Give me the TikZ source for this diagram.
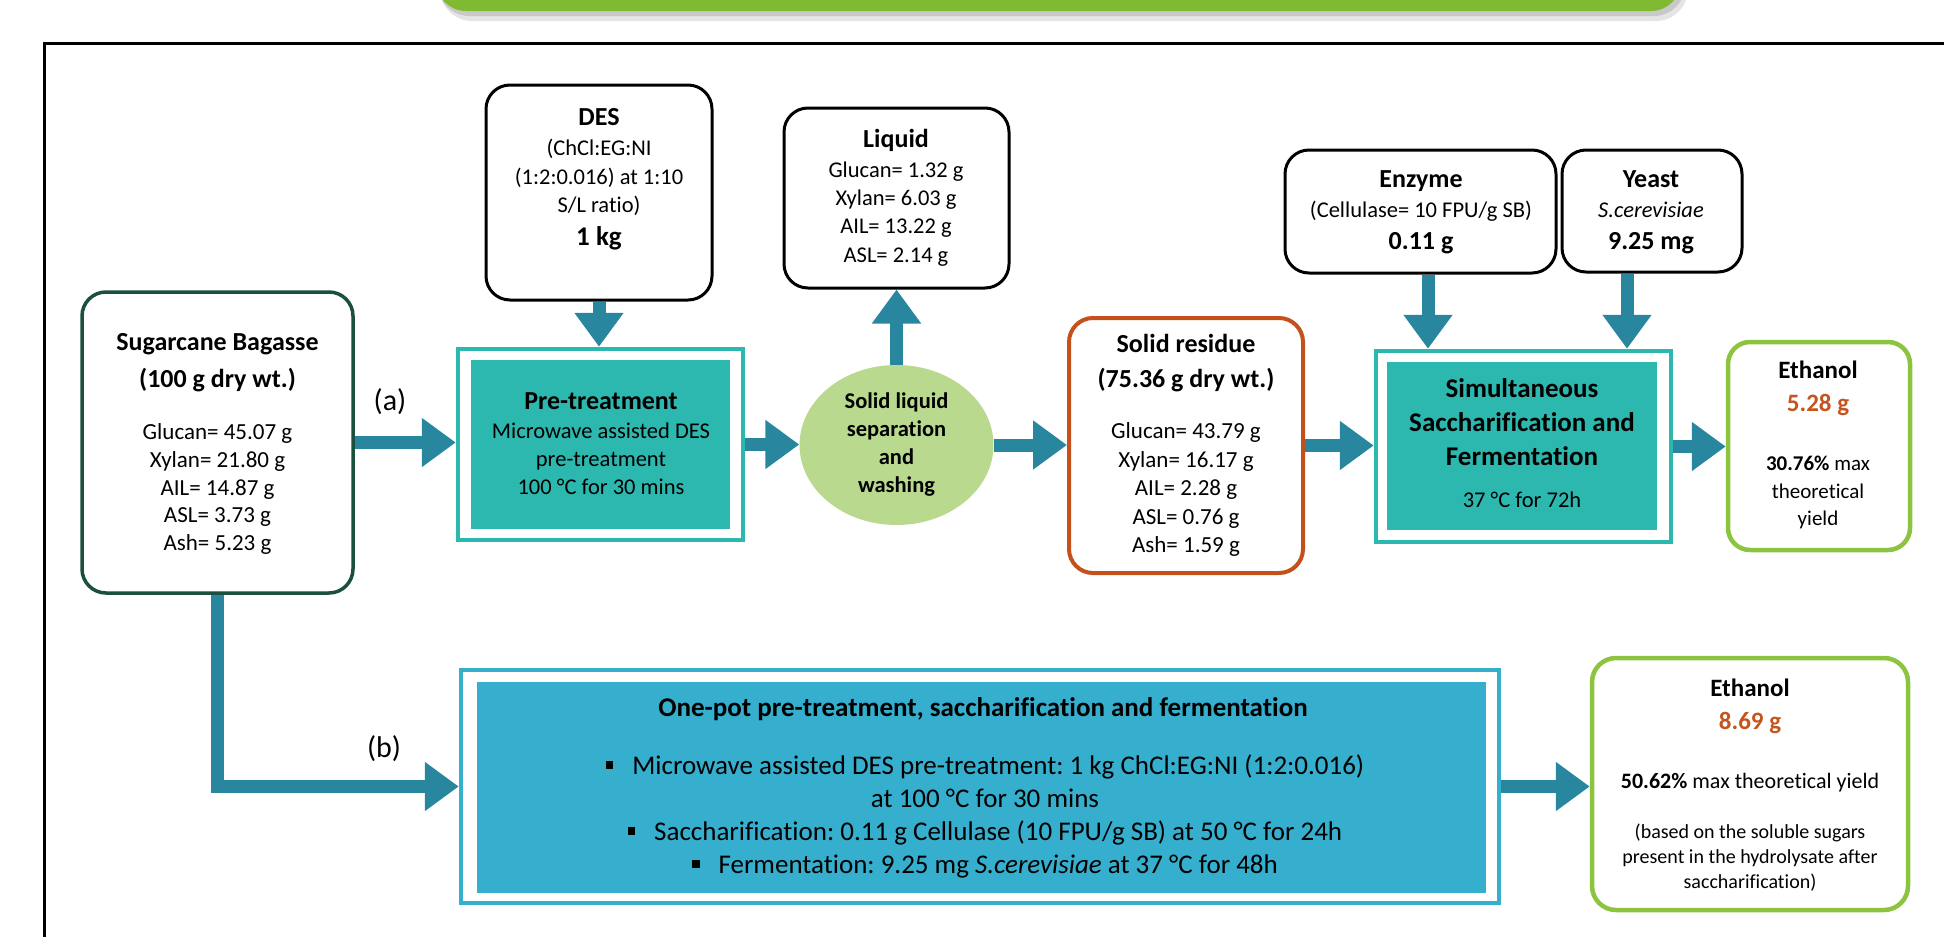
\documentclass[tikz,border=0pt]{standalone}
\usepackage{fontspec}
\setmainfont{Carlito}[Ligatures={NoCommon}]
\usetikzlibrary{arrows.meta,shapes.geometric}
\definecolor{arrowc}{RGB}{40,134,158}
\definecolor{tealc}{RGB}{45,184,175}
\definecolor{bluec}{RGB}{54,174,206}
\definecolor{circc}{RGB}{185,217,143}
\definecolor{bagc}{RGB}{28,80,62}
\definecolor{resc}{RGB}{196,80,28}
\definecolor{ethc}{RGB}{140,196,64}
\definecolor{valc}{RGB}{196,85,30}
\definecolor{topc}{RGB}{127,186,50}
\newcommand\fsz[2]{\fontsize{#1}{#2}\selectfont}
\newcommand\sqb{\raisebox{0.22em}{\rule{0.28em}{0.28em}}\hspace{0.7em}}
\frenchspacing
\begin{document}
\begin{tikzpicture}[x=1pt,y=-1pt,
  whitebox/.style={draw=black, line width=3pt, rounded corners=24pt, fill=white, inner sep=0pt},
  outerbox/.style={line width=4.5pt, fill=white, inner sep=0pt},
  fillbox/.style={inner sep=0pt},
  tx/.style={inner sep=0pt, align=center},
  bigarrow/.style={draw=arrowc, line width=13pt, line join=miter, -{Triangle[length=34pt,width=47pt]}},
  ttl/.style={font={\fsz{26}{35}\bfseries}},
  bdy/.style={font={\fsz{22.5}{28.3}}}
]
\useasboundingbox (0,0) rectangle (1944,937);
% top banner with shadow
\fill[black, opacity=0.10, rounded corners=32pt] (440,-80) rectangle (1688,21);
\fill[black, opacity=0.12, rounded corners=31pt] (438,-80) rectangle (1685,16);
\node[fill=topc, rounded corners=30pt, minimum width=1245pt, minimum height=100pt, inner sep=0pt] (banner) at (1058.5,-39) {};
% frame
\draw[line width=3pt] (44,960) -- (44,43) -- (1960,43);

% Sugarcane bagasse
\node[whitebox, draw=bagc, line width=3.5pt, minimum width=271pt, minimum height=301pt] (bag) at (217.5,442.5) {};
\node[tx, font={\fsz{26}{37}\bfseries}] (bagt) at (217.5,361.5) {\strut Sugarcane Bagasse\\\strut (100 g dry wt.)};
\node[tx, font={\fsz{23}{27.75}}] (bagb) at (217.5,489.5) {\strut Glucan= 45.07 g\\\strut Xylan= 21.80 g\\\strut AIL= 14.87 g\\\strut ASL= 3.73 g\\\strut Ash= 5.23 g};
\node[tx, font={\fsz{30}{36}}] (la) at (390,403) {\strut (a)};

% DES
\node[whitebox, minimum width=226pt, minimum height=215pt] (des) at (599,192.5) {};
\node[tx, ttl] (dest) at (599,118) {\strut DES};
\node[tx, font={\fsz{22.5}{28.5}}] (desb) at (599,178.3) {\strut (ChCl:EG:NI\\\strut (1:2:0.016) at 1:10\\\strut S/L ratio)};
\node[tx, font={\fsz{27}{35}\bfseries}] (deskg) at (599,238) {\strut 1 kg};

% Pre-treatment
\node[outerbox, draw=tealc, minimum width=285pt, minimum height=191pt] (pre) at (600.5,444.5) {};
\node[fillbox, fill=tealc, minimum width=259pt, minimum height=169pt] (prei) at (600.5,444.5) {};
\node[tx, ttl] (pret) at (601,402) {\strut Pre-treatment};
\node[tx, font={\fsz{22.5}{28}}] (preb) at (601,460.7) {\strut Microwave assisted DES\\\strut pre-treatment\\\strut 100 °C for 30 mins};

% Liquid
\node[whitebox, minimum width=225pt, minimum height=180pt] (liq) at (896.5,198) {};
\node[tx, ttl] (liqt) at (896,140) {\strut Liquid};
\node[tx, bdy] (liqb) at (896,214) {\strut Glucan= 1.32 g\\\strut Xylan= 6.03 g\\\strut AIL= 13.22 g\\\strut ASL= 2.14 g};

% separation circle
\node[ellipse, fill=circc, minimum width=194pt, minimum height=160pt, inner sep=0pt] (circ) at (896.5,445) {};
\node[tx, font={\fsz{22.5}{28.3}\bfseries}] (circt) at (896.5,444.8) {\strut Solid liquid\\\strut separation\\\strut and\\\strut washing};

% Solid residue
\node[whitebox, draw=resc, line width=4pt, minimum width=234pt, minimum height=255pt] (res) at (1186,445.5) {};
\node[tx, ttl] (rest) at (1186,362.5) {\strut Solid residue\\\strut (75.36 g dry wt.)};
\node[tx, font={\fsz{23}{28.5}}] (resb) at (1186,490) {\strut Glucan= 43.79 g\\\strut Xylan= 16.17 g\\\strut AIL= 2.28 g\\\strut ASL= 0.76 g\\\strut Ash= 1.59 g};

% Enzyme and Yeast
\node[whitebox, minimum width=271pt, minimum height=123pt] (enz) at (1420.5,211.5) {};
\node[tx, ttl] (enzt) at (1421,180) {\strut Enzyme};
\node[tx, bdy] (enzb) at (1421,212) {\strut (Cellulase= 10 FPU/g SB)};
\node[tx, ttl] (enzv) at (1421,242) {\strut 0.11 g};
\node[whitebox, minimum width=180pt, minimum height=122pt] (yst) at (1652,211) {};
\node[tx, ttl] (ystt) at (1651,180) {\strut Yeast};
\node[tx, bdy] (ystb) at (1651,212) {\strut \textit{S.cerevisiae}};
\node[tx, ttl] (ystv) at (1651,242) {\strut 9.25 mg};

% SSF
\node[outerbox, draw=tealc, minimum width=295pt, minimum height=191pt] (ssf) at (1523.5,446.5) {};
\node[fillbox, fill=tealc, minimum width=270pt, minimum height=168pt] (ssfi) at (1522,446) {};
\node[tx, font={\fsz{27}{34}\bfseries}] (ssft) at (1522,424.3) {\strut Simultaneous\\\strut Saccharification and\\\strut Fermentation};
\node[tx, bdy] (ssfb) at (1522,502) {\strut 37 °C for 72h};

% Ethanol (a)
\node[whitebox, draw=ethc, line width=4.5pt, rounded corners=22pt, minimum width=182pt, minimum height=208pt] (eth) at (1819,446) {};
\node[tx, font={\fsz{25}{33}\bfseries}] (etht) at (1818,372) {\strut Ethanol};
\node[tx, font={\fsz{25}{33}\bfseries}, text=valc] (ethv) at (1818,405) {\strut 5.28 g};
\node[tx, font={\fsz{21}{27.5}}] (ethb) at (1818,492.7) {\strut \textbf{30.76\%} max\\\strut theoretical\\\strut yield};

% One-pot
\node[outerbox, draw=bluec, minimum width=1038pt, minimum height=233pt] (one) at (980,786.5) {};
\node[fillbox, fill=bluec, minimum width=1009pt, minimum height=211pt] (onei) at (981.5,787.5) {};
\node[tx, font={\fsz{27}{33}\bfseries}] (onet) at (983,710) {\strut One-pot pre-treatment, saccharification and fermentation};
\node[tx, font={\fsz{27}{33}}] (oneb) at (985,817.75) {\strut\sqb Microwave assisted DES pre-treatment: 1 kg ChCl:EG:NI (1:2:0.016)\\\strut at 100 °C for 30 mins\\\strut\sqb Saccharification: 0.11 g Cellulase (10 FPU/g SB) at 50 °C for 24h\\\strut\sqb Fermentation: 9.25 mg \textit{S.cerevisiae} at 37 °C for 48h};

% Ethanol (b)
\node[whitebox, draw=ethc, line width=4.5pt, rounded corners=24pt, minimum width=316pt, minimum height=252pt] (eth2) at (1750,784) {};
\node[tx, font={\fsz{25}{33}\bfseries}] (eth2t) at (1750,690) {\strut Ethanol};
\node[tx, font={\fsz{25}{33}\bfseries}, text=valc] (eth2v) at (1750,723) {\strut 8.69 g};
\node[tx, font={\fsz{22}{27.5}}] (eth2y) at (1750,783) {\strut \textbf{50.62\%} max theoretical yield};
\node[tx, font={\fsz{20}{25}}] (eth2n) at (1750,858.3) {\strut (based on the soluble sugars\\\strut present in the hydrolysate after\\\strut saccharification)};
\node[tx, font={\fsz{30}{36}}] (lb) at (384,750) {\strut (b)};

% arrows
\draw[bigarrow] (bag.east) -- (bag.east -| pre.west);
\draw[bigarrow] (pre.east) -- (pre.east -| circ.west);
\draw[bigarrow] (circ.east) -- (circ.east -| res.west);
\draw[bigarrow] (res.east) -- (res.east -| ssf.west);
\draw[bigarrow] (ssf.east) -- (ssf.east -| eth.west);
\draw[bigarrow] (des.south) -- (des.south |- pre.north);
\draw[bigarrow] (circ.north) -- (circ.north |- liq.south);
\draw[bigarrow] ([xshift=7.5pt]enz.south) -- ([xshift=7.5pt]enz.south |- ssf.north);
\draw[bigarrow] ([xshift=-25pt]yst.south) -- ([xshift=-25pt]yst.south |- ssf.north);
\draw[bigarrow] (bag.south) |- (one.west);
\draw[bigarrow] (one.east) -- (one.east -| eth2.west);
\end{tikzpicture}
\end{document}
